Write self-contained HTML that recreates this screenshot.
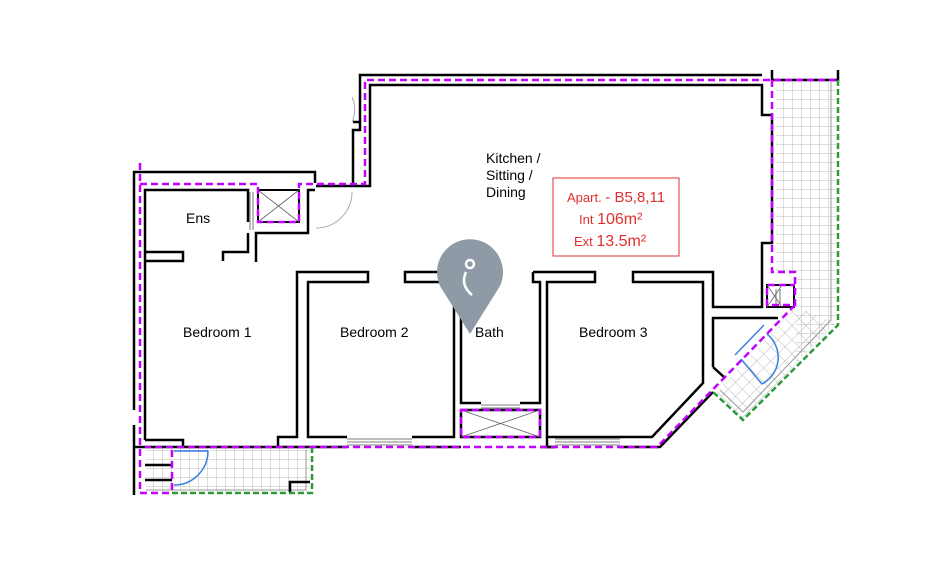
<!DOCTYPE html>
<html><head><meta charset="utf-8"><style>
html,body{margin:0;padding:0;background:#fff;width:938px;height:569px;overflow:hidden}
svg{display:block}
text{font-family:"Liberation Sans",Arial,sans-serif}
</style></head><body>
<svg width="938" height="569" viewBox="0 0 938 569" xmlns="http://www.w3.org/2000/svg">
<defs>
<pattern id="grid" width="9" height="9" patternUnits="userSpaceOnUse">
<path d="M0 0H9M0 0V9" stroke="#a8a8a8" stroke-width="0.8" fill="none"/>
</pattern>
<pattern id="gridd" width="10" height="10" patternUnits="userSpaceOnUse" patternTransform="rotate(45)">
<path d="M0 0H10M0 0V10" stroke="#a8a8a8" stroke-width="0.8" fill="none"/>
</pattern>
</defs>
<rect width="938" height="569" fill="#fff"/>

<!-- balconies -->
<rect x="146" y="448" width="164" height="44" fill="url(#grid)"/>
<polygon points="776,82 836,82 836,323 796,362 796,307 796,272 776,272" fill="url(#grid)"/>
<polygon points="796,307 836,323 743,418 716,392" fill="url(#gridd)"/>
<polyline points="831,82 831,320 743,412 720,390" fill="none" stroke="#999" stroke-width="1"/>
<polyline points="146,490 306,490 306,450" fill="none" stroke="#999" stroke-width="1"/>

<g fill="none" stroke="#000" stroke-width="2.5" stroke-linejoin="miter">
<polyline points="134,410 134,172 315,172 315,183"/>
<polyline points="134,425 134,495"/>
<polyline points="145,440 145,190 248,190 248,222"/>
<polyline points="256,262 256,233 308,233 308,190 315,190"/>
<polyline points="145,252 183,252 183,261 145,261"/>
<polyline points="223,261 223,252 248,252 248,233"/>
<polyline points="353,186 353,130 360,130 360,75 762,75"/>
<polyline points="353,122 360,122"/>
<polyline points="316,186 370,186 370,85 762,85 762,115 772,115 772,243 762,243 762,307 713,307 713,272 633,272 633,282 703,282 703,383 652,437 547,437 547,282 595,282 595,272 533,272"/>
<polyline points="772,70 772,80 838,80 838,70"/>
<polyline points="145,440 183,440 183,447"/>
<polyline points="278,447 278,437 297,437 297,272 368,272 368,282 308,282 308,437 347,437"/>
<polyline points="412,437 454,437 454,282 405,282 405,272 495,272 495,282 461,282 461,403 481,403"/>
<polyline points="520,403 540,403 540,282 533,282 533,272"/>
<polyline points="461,410 540,410 540,437 461,437 461,410"/>
<polyline points="547,437 547,447 555,447"/>
<polyline points="620,447 660,447 713,392"/>
<polyline points="145,447 347,447"/>
<polyline points="412,447 461,447"/>
<polyline points="540,447 555,447"/>
<polyline points="713,367 713,318 778,318"/>
<polyline points="713,367 725,378"/>
<polyline points="134,447 145,447"/>
<polyline points="145,465 172,465"/>
<polyline points="145,480 172,480"/>
<polyline points="290,492 290,482 310,482"/>
<rect x="258" y="190" width="41" height="32" stroke-width="2"/>
<rect x="767" y="285" width="27" height="22" stroke-width="2"/>
</g>
<g stroke="#555" stroke-width="0.8">
<path d="M347 439H412M347 442H412M347 445H412M481 405H520M481 408H520M555 439H620M555 442H620M555 445H620M250 192V230M253 192V230M776 289V305M780 289V305"/>
</g>
<path d="M258 190L299 222M299 190L258 222M461 410L540 437M540 410L461 437M767 285L782 307M782 285L767 307" stroke="#666" stroke-width="0.8"/>
<path d="M316 228A36 36 0 0 0 352 192" fill="none" stroke="#aaa" stroke-width="1"/>
<path d="M352 97A30 30 0 0 1 352 122" fill="none" stroke="#aaa" stroke-width="1"/>
<g fill="none" stroke="#c400ff" stroke-width="2.5" stroke-dasharray="7,4">
<polyline points="140,163 140,493 172,493"/>
<polyline points="140,184 258,184 258,222 299,222 299,184 365,184 365,80 838,80"/>
<polyline points="772,80 772,272 795,272 795,305 767,305 767,285 795,285"/>
<polyline points="795,305 657,447 145,447"/>
<polyline points="172,450 172,493"/>
<rect x="461" y="410" width="79" height="27"/>
</g>
<g fill="none" stroke="#2d9a3a" stroke-width="2.5" stroke-dasharray="6,3">
<polyline points="838,80 838,325 743,420 713,392"/>
<polyline points="172,493 312,493 312,448"/>
</g>
<g fill="none" stroke="#3a7fe0" stroke-width="1.5">
<path d="M174 451H208"/>
<path d="M208 451A34 34 0 0 1 174 485"/>
<path d="M735 355L764 325"/>
<path d="M741 359L762 384"/>
<path d="M762 384A30 30 0 0 0 767 334"/>
</g>
<path d="M470 334L440 286A33 33 0 1 1 500 286Z" fill="#8e9aa5"/>
<circle cx="470" cy="264" r="4" fill="none" stroke="#fff" stroke-width="2.5"/>
<path d="M466 272Q460 285 472 295" fill="none" stroke="#fff" stroke-width="2.5"/>
<g font-size="14" fill="#000">
<text x="486" y="163">Kitchen /</text>
<text x="486" y="180">Sitting /</text>
<text x="486" y="197">Dining</text>
<text x="186" y="223">Ens</text>
<text x="183" y="337">Bedroom 1</text>
<text x="340" y="337">Bedroom 2</text>
<text x="475" y="337">Bath</text>
<text x="579" y="337">Bedroom 3</text>
</g>
<rect x="553" y="178" width="126" height="78" fill="none" stroke="#e03030" stroke-width="1"/>
<g fill="#e03030">
<text x="567" y="202" font-size="13">Apart. <tspan font-size="15">- B5,8,11</tspan></text>
<text x="579" y="224" font-size="13">Int <tspan font-size="16">106m²</tspan></text>
<text x="574" y="246" font-size="13">Ext <tspan font-size="16">13.5m²</tspan></text>
</g>
</svg>
</body></html>
